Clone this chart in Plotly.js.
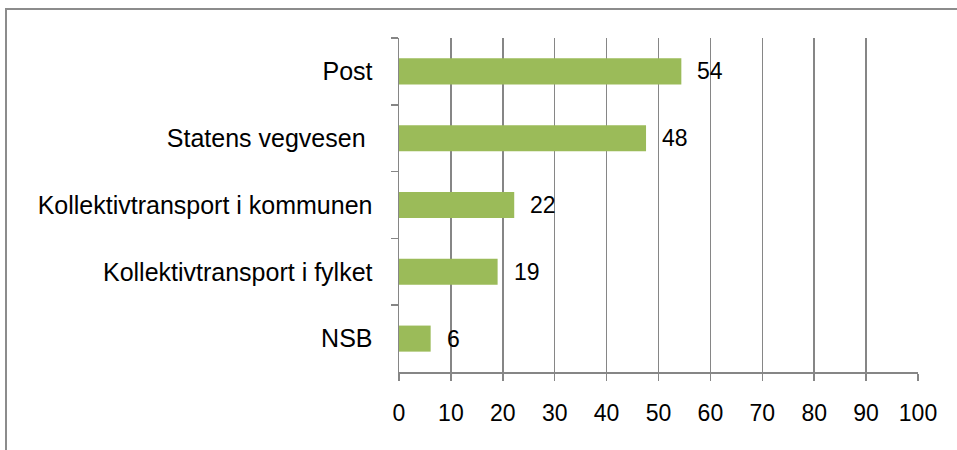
<!DOCTYPE html>
<html>
<head>
<meta charset="utf-8">
<script src="https://cdn.plot.ly/plotly-3.0.1.min.js"></script>
<style>
  html, body { margin: 0; padding: 0; background: #fff; }
  #wrap { position: relative; width: 957px; height: 450px; }
  #chart { width: 957px; height: 450px; }
  #frame { position: absolute; left: 5px; top: 8px; right: 0; bottom: 0;
           border-left: 2px solid #8c8c8c; border-top: 2px solid #8c8c8c; pointer-events: none; }
</style>
</head>
<body>
<div id="wrap">
  <div id="chart"></div>
  <div id="frame"></div>
</div>
<script>
// Data (top to bottom)
const categories = ["Post", "Statens vegvesen\u00a0", "Kollektivtransport i kommunen", "Kollektivtransport i fylket", "NSB"];
const values = [54.4, 47.6, 22.2, 19.0, 6.1];
const labels = ["54", "48", "22", "19", "6"];
const xTicks = [0, 10, 20, 30, 40, 50, 60, 70, 80, 90, 100];

const FONT = "Liberation Sans, Arial, sans-serif";
const axisColor = "#868686";

const trace = {
  type: "bar",
  orientation: "h",
  x: values,
  y: categories,
  marker: { color: "#9bbb59" },
  hoverinfo: "skip"
};

const annotations = values.map((v, i) => ({
  x: v, y: categories[i], xref: "x", yref: "y",
  text: labels[i], showarrow: false, xanchor: "left", yanchor: "middle",
  xshift: 14, font: { family: FONT, size: 23, color: "#000" }
}));

const layout = {
  width: 957, height: 450,
  margin: { l: 399, r: 39, t: 38, b: 78 },
  paper_bgcolor: "#fff", plot_bgcolor: "#fff",
  bargap: 0.61,
  showlegend: false,
  font: { family: FONT, size: 23, color: "#000" },
  xaxis: {
    range: [0, 100],
    tickvals: xTicks,
    ticktext: xTicks.map(String),
    tickfont: { family: FONT, size: 23, color: "#000" },
    showgrid: true, gridcolor: axisColor, gridwidth: 1.5,
    showline: true, linecolor: axisColor, linewidth: 1.5,
    ticks: "outside", ticklen: 7, tickcolor: axisColor, tickwidth: 1.5,
    ticklabelstandoff: 13,
    zeroline: false, fixedrange: true
  },
  yaxis: {
    type: "category",
    autorange: "reversed",
    showgrid: false,
    showline: true, linecolor: axisColor, linewidth: 1.5,
    ticks: "outside", ticklen: 7, tickcolor: axisColor, tickwidth: 1.5,
    tickson: "boundaries",
    tickfont: { family: FONT, size: 25, color: "#000" },
    ticklabelstandoff: 20,
    zeroline: false, fixedrange: true
  },
  annotations: annotations
};

Plotly.newPlot("chart", [trace], layout, { staticPlot: true, displayModeBar: false });
</script>
</body>
</html>
